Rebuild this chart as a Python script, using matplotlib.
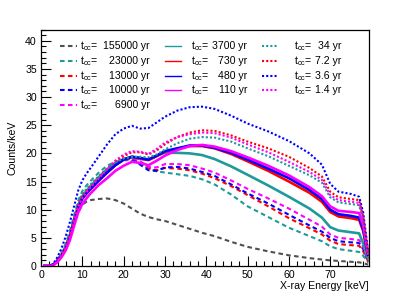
import matplotlib
matplotlib.use("Agg")
import matplotlib.pyplot as plt
from matplotlib.lines import Line2D
from matplotlib.ticker import MultipleLocator

plt.rcParams['font.family'] = ['Liberation Sans', 'DejaVu Sans']
plt.rcParams['mathtext.fontset'] = 'custom'
plt.rcParams['mathtext.rm'] = 'Liberation Sans'

energy = [0.5, 2, 3, 4, 5, 6, 7, 8, 9, 10, 11, 12, 14, 16, 18, 20, 22, 24, 26, 28, 30,
          33, 36, 39, 42, 46, 50, 55, 60, 65, 68, 70, 72, 75, 77, 78, 79.2]

c_155000 = [0, 0, 0.2, 0.9, 1.9, 3.2, 5.2, 7.6, 9.6, 10.9, 11.4, 11.7, 11.9, 12.0, 11.7, 11.1, 10.2, 9.3, 8.7, 8.3, 8.0,
            7.3, 6.6, 5.9, 5.3, 4.3, 3.4, 2.6, 1.9, 1.4, 1.15, 1.0, 0.9, 0.75, 0.65, 0.5, 0.25]
c_23000 = [0, 0, 0.3, 1.2, 2.4, 4.0, 6.3, 9.0, 11.6, 13.3, 14.3, 15.1, 16.6, 17.8, 18.5, 18.8, 18.7, 18.1, 17.3, 16.8, 16.6,
           16.3, 16.0, 15.4, 14.5, 12.7, 10.6, 8.7, 6.8, 5.3, 4.4, 3.5, 3.0, 2.7, 2.5, 1.8, 0.6]
c_13000 = [0, 0, 0.25, 1.0, 2.0, 3.4, 5.5, 8.2, 10.8, 12.3, 13.2, 14.0, 15.5, 16.9, 18.0, 18.8, 19.1, 18.4, 17.4, 17.0, 17.4,
           17.3, 17.0, 16.4, 15.6, 14.2, 12.6, 10.6, 8.5, 6.7, 5.6, 4.5, 3.9, 3.7, 3.6, 2.6, 0.8]
c_10000 = [0, 0, 0.25, 1.0, 2.0, 3.4, 5.5, 8.2, 10.8, 12.4, 13.3, 14.1, 15.6, 17.0, 18.1, 18.9, 19.0, 18.0, 17.0, 16.9, 17.5,
           17.6, 17.3, 16.7, 16.0, 14.5, 12.9, 11.1, 9.1, 7.2, 6.1, 5.0, 4.4, 4.2, 4.1, 3.0, 0.9]
c_6900 = [0, 0, 0.2, 0.9, 1.9, 3.2, 5.3, 8.0, 10.6, 12.2, 13.1, 13.9, 15.4, 16.8, 17.9, 18.8, 19.2, 18.6, 17.6, 17.5, 18.1,
          18.1, 17.9, 17.3, 16.6, 15.2, 13.7, 12.0, 10.2, 8.2, 7.0, 5.6, 5.0, 4.8, 4.6, 3.4, 1.0]
c_3700 = [0, 0, 0.25, 1.0, 2.0, 3.4, 5.5, 8.2, 10.8, 12.4, 13.3, 14.2, 15.8, 17.2, 18.3, 19.0, 19.3, 19.0, 18.9, 19.6, 20.1,
          20.1, 20.0, 19.7, 19.0, 17.7, 16.2, 14.3, 12.3, 10.2, 8.6, 6.9, 6.3, 6.0, 5.8, 4.0, 1.2]
c_730 = [0, 0, 0.2, 0.9, 1.9, 3.2, 5.2, 7.9, 10.4, 12.0, 12.9, 13.7, 15.2, 16.6, 17.9, 18.9, 19.4, 19.1, 18.8, 19.5, 20.3,
         20.8, 21.3, 21.3, 20.9, 19.9, 18.6, 16.9, 15.0, 13.0, 11.4, 9.6, 8.8, 8.5, 8.2, 6.2, 1.7]
c_480 = [0, 0, 0.2, 0.9, 1.9, 3.2, 5.2, 7.9, 10.4, 12.0, 12.9, 13.7, 15.2, 16.6, 17.9, 18.9, 19.4, 19.2, 18.9, 19.6, 20.4,
         20.9, 21.4, 21.4, 21.0, 20.1, 18.9, 17.3, 15.6, 13.5, 11.9, 10.0, 9.2, 8.9, 8.6, 6.5, 1.8]
c_110 = [0, 0, 0.15, 0.7, 1.6, 2.8, 4.6, 7.1, 9.5, 11.0, 12.0, 12.9, 14.4, 15.6, 16.9, 17.8, 18.5, 18.3, 17.9, 18.7, 19.6,
         20.6, 21.3, 21.5, 21.2, 20.4, 19.3, 17.8, 16.1, 14.0, 12.4, 10.6, 9.8, 9.6, 9.4, 7.2, 2.0]
c_34 = [0, 0, 0.3, 1.1, 2.2, 3.7, 5.9, 8.6, 11.2, 12.8, 13.7, 14.5, 16.0, 17.3, 18.4, 19.1, 19.4, 19.4, 19.3, 19.8, 20.7,
        21.8, 22.6, 22.9, 22.8, 22.1, 20.9, 19.5, 17.8, 16.1, 14.8, 12.2, 11.3, 11.0, 10.8, 8.0, 2.0]
c_7p2 = [0, 0, 0.25, 1.0, 2.0, 3.4, 5.5, 8.2, 10.8, 12.4, 13.3, 14.1, 15.7, 17.2, 18.6, 19.5, 20.2, 20.2, 19.8, 20.5, 21.6,
         22.9, 23.7, 24.1, 24.0, 23.2, 22.1, 20.9, 19.4, 17.4, 15.9, 13.2, 12.2, 11.9, 11.7, 8.8, 2.2]
c_3p6 = [0, 0, 0.4, 1.6, 3.2, 5.3, 7.8, 10.6, 13.4, 15.2, 16.4, 17.4, 19.5, 21.6, 23.4, 24.4, 24.9, 24.4, 24.5, 25.5, 26.5,
         27.6, 28.2, 28.3, 27.9, 26.7, 25.3, 23.9, 22.2, 20.0, 18.0, 14.6, 13.2, 12.8, 12.3, 9.5, 2.5]
c_1p4 = [0, 0, 0.2, 0.9, 1.9, 3.2, 5.3, 8.0, 10.5, 12.1, 13.1, 14.0, 15.6, 17.2, 18.7, 19.8, 20.4, 20.3, 19.9, 20.8, 21.9,
         22.9, 23.4, 23.7, 23.6, 22.8, 21.6, 20.2, 18.5, 16.7, 15.3, 12.6, 11.7, 11.4, 11.2, 8.4, 2.1]

ages = ["155000", "23000", "13000", "10000", "6900",
        "3700", "730", "480", "110",
        "34", "7.2", "3.6", "1.4"]
series = [c_155000, c_23000, c_13000, c_10000, c_6900,
          c_3700, c_730, c_480, c_110,
          c_34, c_7p2, c_3p6, c_1p4]

TEAL = '#1f9a9a'
colors = ['#505050', TEAL, '#ff0000', '#0000ff', '#ff00ff',
          TEAL, '#ff0000', '#0000ff', '#ff00ff',
          TEAL, '#ff0000', '#0000ff', '#ff00ff']
DASH = (0, (2.2, 1.6))
DOT = (0, (1, 1))
styles = [DASH] * 5 + ['-'] * 4 + [DOT] * 4
widths = [1.5] * 5 + [1.9] * 4 + [1.5] * 4
leg_widths = [1.5] * 5 + [1.0] * 4 + [1.5] * 4

W, H = 411, 296
fig = plt.figure(figsize=(W / 100, H / 100), dpi=100)
ax = fig.add_axes([41 / W, 1 - 266 / H, (369 - 41) / W, (266 - 29.5) / H])

for y, c, ls, lw in zip(series, colors, styles, widths):
    ax.plot(energy, y, color=c, linestyle=ls, linewidth=lw, solid_capstyle='butt', dash_capstyle='butt')

ax.set_xlim(0, 79.4)
ax.set_ylim(0, 42)
ax.xaxis.set_major_locator(MultipleLocator(10))
ax.xaxis.set_minor_locator(MultipleLocator(2))
ax.yaxis.set_major_locator(MultipleLocator(5))
ax.yaxis.set_minor_locator(MultipleLocator(1))
ax.tick_params(which='both', direction='in', top=False, right=False, labelsize=7.6, width=0.8, pad=3)
ax.tick_params(which='major', length=7)
ax.tick_params(which='minor', length=3.5)
for s in ax.spines.values():
    s.set_linewidth(0.9)

fig.text(12 / W, 1 - 148 / H, "Counts/keV", rotation=90, ha='center', va='center', fontsize=7.6)
fig.text(369 / W, 1 - 286 / H, "X-ray Energy [keV]", ha='right', va='center', fontsize=7.6)

# legend (manual, ROOT style)
row_y = [46, 61, 75.7, 90.3, 105]
col_line = [(60, 77), (165, 181), (262, 278)]
col_lab = [80, 191, 294]
col_num_end = [150, 247, 341]
cols = [[0, 1, 2, 3, 4], [5, 6, 7, 8], [9, 10, 11, 12]]
for ci, idxs in enumerate(cols):
    for ri, i in enumerate(idxs):
        yy = 1 - row_y[ri] / H
        fig.add_artist(Line2D([col_line[ci][0] / W, col_line[ci][1] / W], [yy, yy],
                              transform=fig.transFigure, color=colors[i],
                              linestyle=styles[i], linewidth=leg_widths[i]))
        fig.text(col_lab[ci] / W, yy, r"$\mathregular{t_{cc}}$=", ha='left', va='center', fontsize=7.6)
        fig.text(col_num_end[ci] / W, yy, ages[i] + " yr", ha='right', va='center', fontsize=7.6)

fig.savefig("out.png", dpi=100)
